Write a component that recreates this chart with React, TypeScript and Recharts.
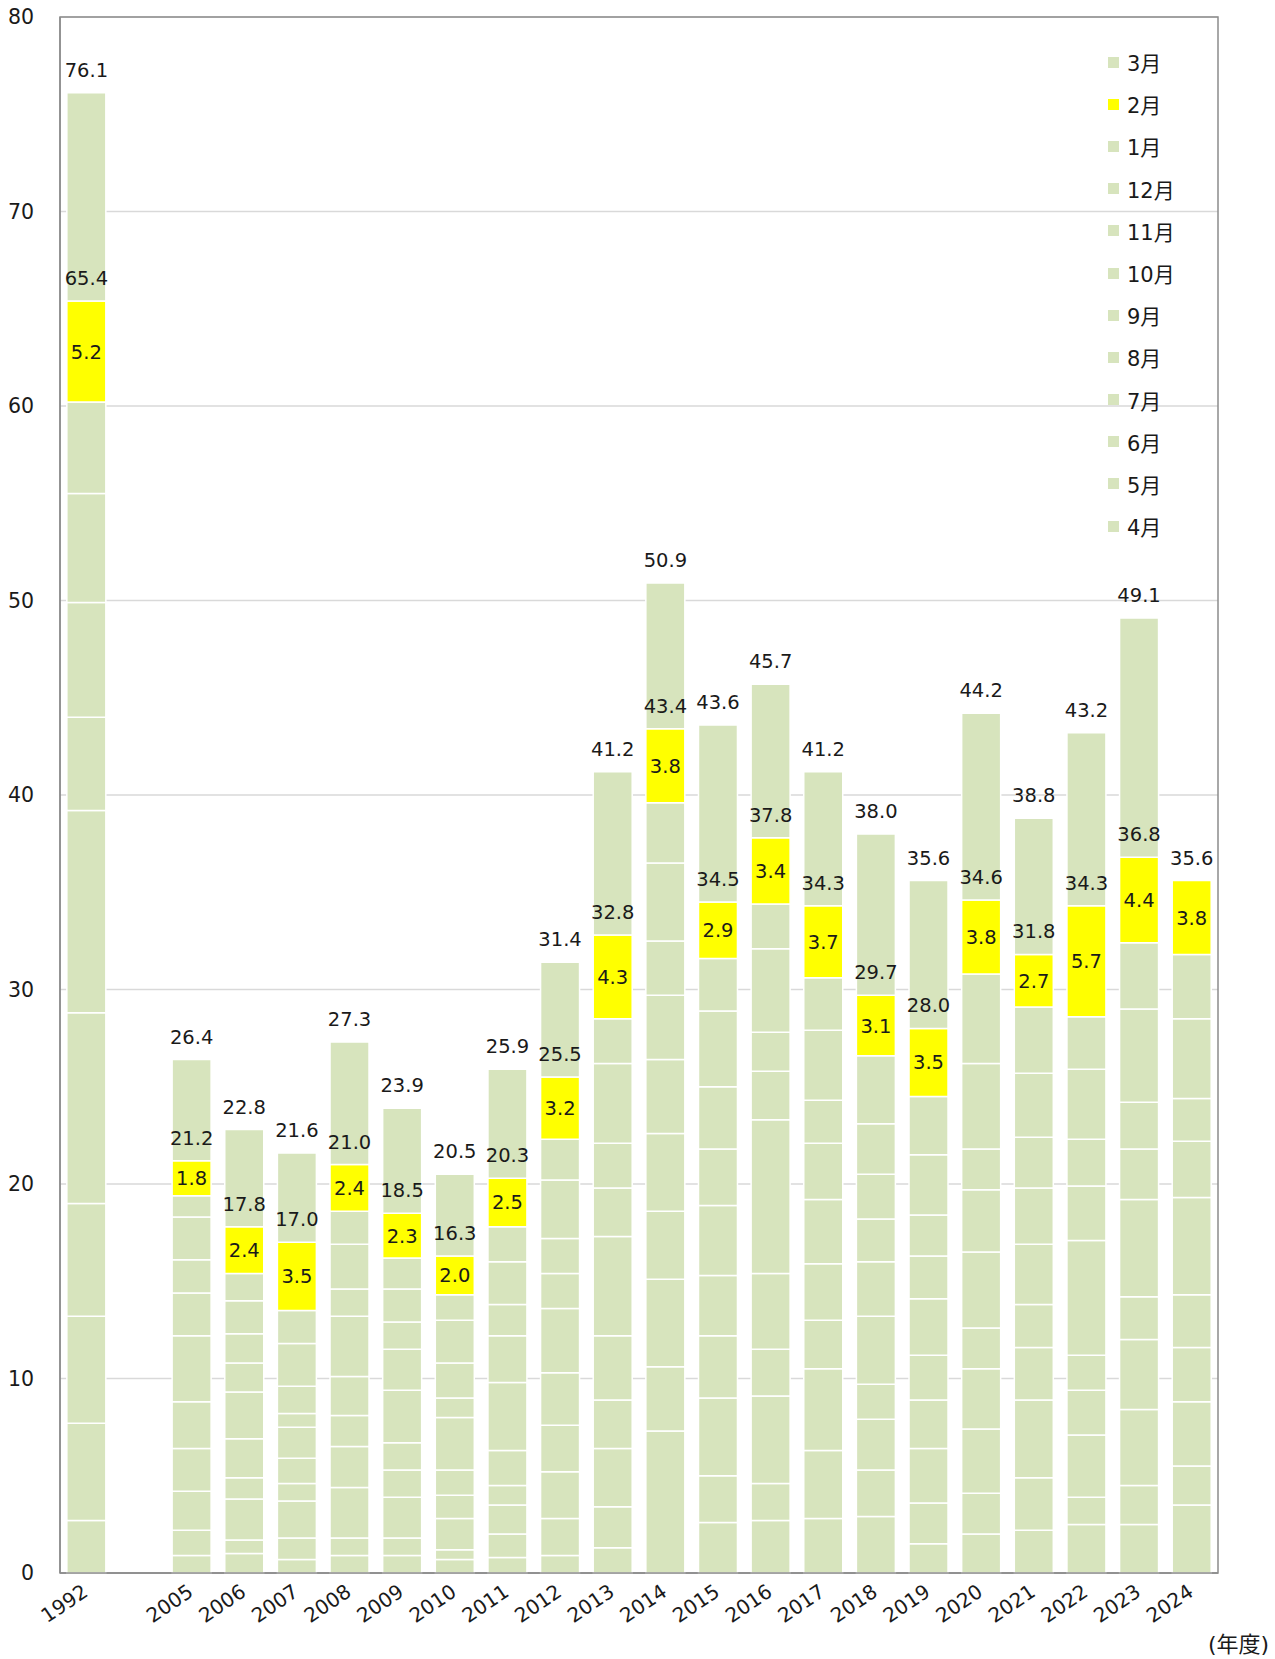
import { BarChart, Bar, XAxis, YAxis, CartesianGrid, Legend, LabelList, ReferenceArea } from 'recharts'

const years = ['1992', '', '2005', '2006', '2007', '2008', '2009', '2010', '2011', '2012', '2013', '2014', '2015', '2016', '2017', '2018', '2019', '2020', '2021', '2022', '2023', '2024']

// monthly values, fiscal year order (April → March)
const apr = [2.7, null, 0.9, 1.0, 0.7, 0.9, 0.9, 0.7, 0.8, 0.9, 1.3, 7.3, 2.6, 2.7, 2.8, 2.9, 1.5, 2.0, 2.2, 2.5, 2.5, 3.5]
const may = [5.0, null, 1.3, 0.7, 1.1, 0.9, 0.9, 0.5, 1.2, 1.9, 2.1, 3.3, 2.4, 1.9, 3.5, 2.4, 2.1, 2.1, 2.7, 1.4, 2.0, 2.0]
const jun = [5.5, null, 2.0, 2.1, 1.9, 2.6, 2.1, 1.6, 1.5, 2.4, 3.0, 4.5, 4.0, 4.5, 4.2, 2.6, 2.8, 3.3, 4.0, 3.2, 3.9, 3.3]
const jul = [5.8, null, 2.2, 1.1, 0.9, 2.1, 1.4, 1.2, 1.0, 2.4, 2.5, 3.5, 3.2, 2.4, 2.5, 1.8, 2.5, 3.1, 2.7, 2.3, 3.6, 2.8]
const aug = [9.8, null, 2.4, 2.0, 1.3, 1.6, 1.4, 1.3, 1.8, 2.7, 3.3, 4.0, 3.1, 3.9, 2.9, 3.5, 2.3, 2.1, 2.2, 1.8, 2.2, 2.7]
const sep = [10.4, null, 3.4, 2.4, 1.6, 2.0, 2.7, 2.7, 3.5, 3.3, 5.1, 3.8, 3.6, 7.9, 3.3, 2.8, 2.9, 3.9, 3.1, 5.9, 5.0, 5.0]
const oct = [4.8, null, 2.2, 1.5, 0.7, 3.1, 2.1, 1.0, 2.4, 1.8, 2.5, 3.3, 2.9, 2.5, 2.9, 2.2, 2.2, 3.2, 2.9, 2.8, 2.6, 2.9]
const nov = [5.9, null, 1.7, 1.5, 1.4, 1.4, 1.4, 1.8, 1.6, 1.8, 2.3, 2.8, 3.2, 2.0, 2.2, 2.3, 2.1, 2.1, 2.6, 2.4, 2.4, 2.2]
const dec = [5.6, null, 2.2, 1.7, 2.2, 2.3, 1.7, 2.2, 2.2, 3.0, 4.1, 4.0, 3.9, 4.3, 3.6, 2.6, 3.1, 4.4, 3.3, 3.6, 4.8, 4.1]
const jan = [4.7, null, 1.1, 1.4, 1.7, 1.7, 1.6, 1.3, 1.8, 2.1, 2.3, 3.1, 2.7, 2.3, 2.7, 3.5, 3.0, 4.6, 3.4, 2.7, 3.4, 3.3]
const feb = [5.2, null, 1.8, 2.4, 3.5, 2.4, 2.3, 2.0, 2.5, 3.2, 4.3, 3.8, 2.9, 3.4, 3.7, 3.1, 3.5, 3.8, 2.7, 5.7, 4.4, 3.8]
const mar = [10.7, null, 5.2, 5.0, 4.6, 6.3, 5.4, 4.2, 5.6, 5.9, 8.4, 7.5, 9.1, 7.9, 6.9, 8.3, 7.6, 9.6, 7.0, 8.9, 12.3, null]

// printed labels
const throughFeb = [65.4, null, 21.2, 17.8, 17.0, 21.0, 18.5, 16.3, 20.3, 25.5, 32.8, 43.4, 34.5, 37.8, 34.3, 29.7, 28.0, 34.6, 31.8, 34.3, 36.8, 35.6]
const totals = [76.1, null, 26.4, 22.8, 21.6, 27.3, 23.9, 20.5, 25.9, 31.4, 41.2, 50.9, 43.6, 45.7, 41.2, 38.0, 35.6, 44.2, 38.8, 43.2, 49.1, 35.6]

const GREEN = '#d7e4bd'
const YELLOW = '#ffff00'
const FONT = "'DejaVu Sans', 'Noto Sans CJK JP', sans-serif"
const INK = '#1a1a1a'

const months = [
  { key: 'apr', name: '4月', values: apr },
  { key: 'may', name: '5月', values: may },
  { key: 'jun', name: '6月', values: jun },
  { key: 'jul', name: '7月', values: jul },
  { key: 'aug', name: '8月', values: aug },
  { key: 'sep', name: '9月', values: sep },
  { key: 'oct', name: '10月', values: oct },
  { key: 'nov', name: '11月', values: nov },
  { key: 'dec', name: '12月', values: dec },
  { key: 'jan', name: '1月', values: jan },
  { key: 'feb', name: '2月', values: feb },
  { key: 'mar', name: '3月', values: mar },
]

const data = years.map((year, i) => {
  const row: any = { year, throughFeb: throughFeb[i], total: mar[i] == null ? null : totals[i] }
  months.forEach((m) => (row[m.key] = m.values[i]))
  return row
})

const fmt = (v: any) => Number(v).toFixed(1)

const AboveLabel = (props: any) => {
  if (props.value == null) return null
  const vb = props.viewBox || props
  return (
    <text x={vb.x + vb.width / 2} y={vb.y - 16} textAnchor="middle" fontSize={19.5} fontFamily={FONT} fill={INK}>
      {fmt(props.value)}
    </text>
  )
}

const InsideLabel = (props: any) => {
  if (props.value == null) return null
  const vb = props.viewBox || props
  return (
    <text x={vb.x + vb.width / 2} y={vb.y + vb.height / 2} dy="0.36em" textAnchor="middle" fontSize={19.5} fontFamily={FONT} fill={INK}>
      {fmt(props.value)}
    </text>
  )
}

const YearTick = ({ x, y, payload }: any) => {
  if (!payload.value) return null
  return (
    <g transform={`translate(${x + 3},${y + 14})`}>
      <text textAnchor="end" transform="rotate(-34)" fontSize={20} fontFamily={FONT} fill={INK}>
        {payload.value}
      </text>
    </g>
  )
}

const MonthLegend = () => (
  <div style={{ fontFamily: FONT, fontSize: 21, color: INK }}>
    {[...months].reverse().map((m) => (
      <div key={m.key} style={{ height: 42.2, display: 'flex', alignItems: 'center' }}>
        <span style={{ width: 11, height: 11, background: m.key === 'feb' ? YELLOW : GREEN, marginRight: 8 }} />
        <span>{m.name}</span>
      </div>
    ))}
  </div>
)

export default function App() {
  return (
    <div style={{ position: 'absolute', left: 0, top: 0, width: 1275, height: 1659, background: '#fff' }}>
      <BarChart width={1275} height={1659} data={data} margin={{ top: 17, right: 57, bottom: 0, left: 0 }} barCategoryGap="13%">
        <CartesianGrid vertical={false} stroke="#d9d9d9" strokeWidth={1.5} />
        <XAxis dataKey="year" interval={0} height={86} tick={<YearTick />} tickLine={false} axisLine={{ stroke: '#8c8c8c', strokeWidth: 1.5 }} />
        <YAxis
          domain={[0, 80]}
          ticks={[0, 10, 20, 30, 40, 50, 60, 70, 80]}
          width={60}
          tickLine={false}
          tickSize={0}
          tickMargin={26}
          axisLine={{ stroke: '#8c8c8c', strokeWidth: 1.5 }}
          tick={{ fontSize: 20.5, fontFamily: FONT, fill: INK }}
        />
        <ReferenceArea y1={0} y2={80} fill="none" stroke="#8c8c8c" strokeWidth={1.5} />
        <Legend layout="vertical" align="center" verticalAlign="middle" wrapperStyle={{ top: 41, left: 1108, width: 110 }} content={<MonthLegend />} />
        {months.map((m) => (
          <Bar
            key={m.key}
            dataKey={m.key}
            name={m.name}
            stackId="fy"
            fill={m.key === 'feb' ? YELLOW : GREEN}
            stroke="#ffffff"
            strokeWidth={1.5}
            isAnimationActive={false}
          >
            {m.key === 'feb' && <LabelList dataKey="feb" content={<InsideLabel />} />}
            {m.key === 'feb' && <LabelList dataKey="throughFeb" content={<AboveLabel />} />}
            {m.key === 'mar' && <LabelList dataKey="total" content={<AboveLabel />} />}
          </Bar>
        ))}
      </BarChart>
      <div style={{ position: 'absolute', left: 1208, top: 1633, fontFamily: FONT, fontSize: 22, lineHeight: '24px', color: INK, whiteSpace: 'nowrap' }}>
        (年度)
      </div>
    </div>
  )
}
